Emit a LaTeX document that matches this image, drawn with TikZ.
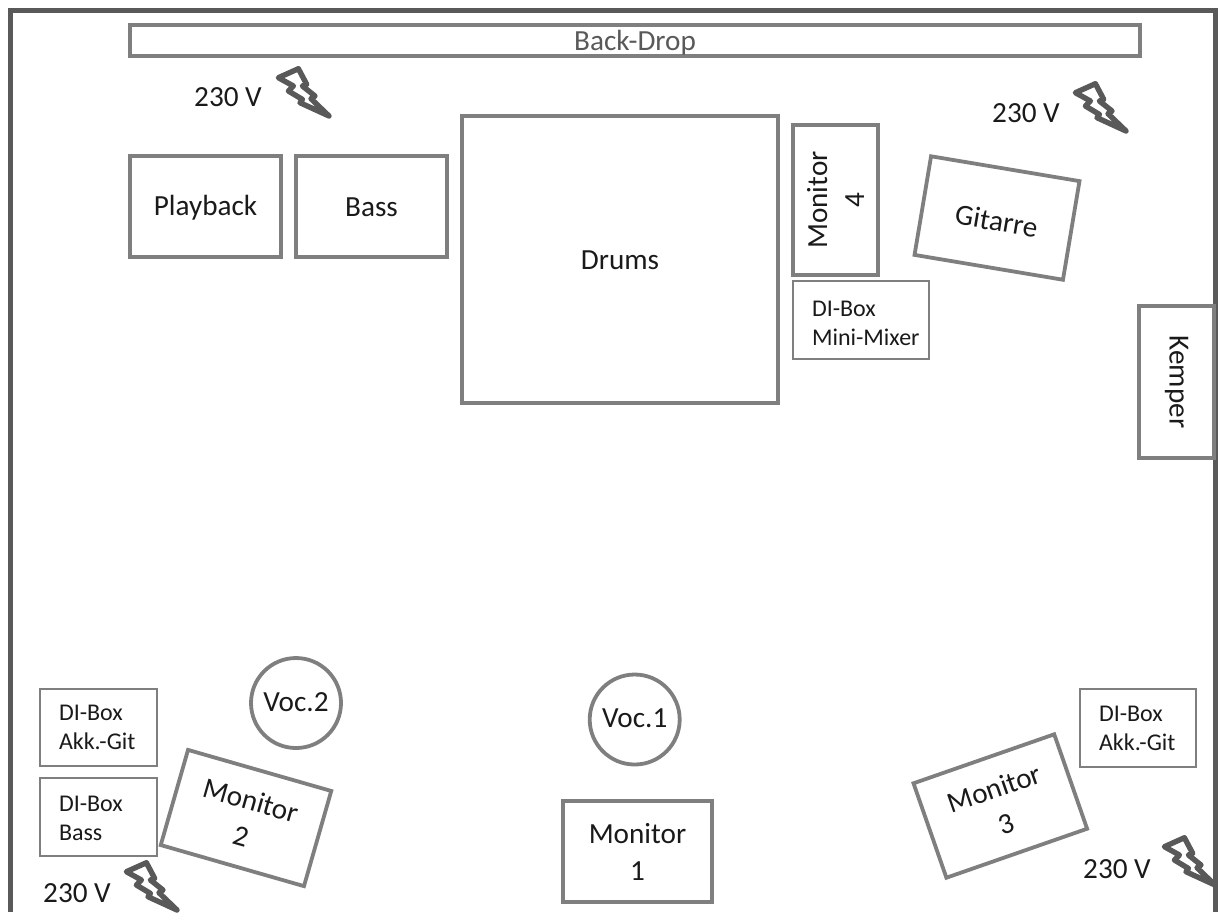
\documentclass[tikz,border=0pt]{standalone}
\usepackage{fontspec}
\setmainfont{Carlito}
\definecolor{wallc}{HTML}{595959}
\definecolor{boxc}{HTML}{7F7F7F}
\definecolor{inkc}{HTML}{1A1A1A}
\newcommand{\dil}{\hspace*{9.5pt}}
\newcommand{\nudge}[2]{\raisebox{#1}[\height][\depth]{#2}}
\tikzset{
  bx/.style 2 args={minimum width=#1*0.5pt, minimum height=#2*0.5pt},
  stagebox/.style={rectangle, draw=boxc, line width=1.9pt, inner sep=0pt, align=center, text=inkc,
    font=\fontsize{14.6}{18.5}\selectfont},
  dibox/.style={rectangle, draw=boxc, line width=1.1pt, inner xsep=0pt, inner ysep=0pt, align=left, text=inkc,
    font=\fontsize{12}{14.5}\selectfont, text width=#1*0.5pt},
  voc/.style={circle, draw=boxc, line width=1.9pt, inner sep=0pt, text=inkc, font=\fontsize{14.6}{16}\selectfont},
  volt/.style={text=inkc, inner sep=0pt, font=\fontsize{14.6}{16}\selectfont},
  boltline/.style={draw=wallc, line width=2.7pt, line join=round, line cap=round},
  wall/.style={draw=wallc, line width=2.5pt, line join=miter},
}
\newcommand{\bolt}[1]{%
  \draw[boltline,shift={(#1)}] (-50.6,-38.3) -- (-30.6,-47.3) -- (-22.3,-31.6) -- (-26.6,-30) -- (-14,-20) -- (-18,-17.3) -- (0,0) -- (-29,-13.3) -- (-26.6,-16.6) -- (-40.6,-25) -- (-35.6,-30) -- cycle;}
\begin{document}
\begin{tikzpicture}[x=0.5pt,y=-0.5pt]
\useasboundingbox (0,0) rectangle (1219,912);
\coordinate (wa) at (10,912); \coordinate (wb) at (10,10);
\coordinate (wc) at (1215,10); \coordinate (wd) at (1215,912);
\draw[wall] (wa) -- (wb) -- (wc) -- (wd);
\node[stagebox,bx={1010}{31},text=wallc] (backdrop) at (635,40.5) {\nudge{-1pt}{Back-Drop}};
\node[stagebox,bx={151}{101}] (playback) at (205.5,206.5) {\nudge{-0.5pt}{Playback}};
\node[stagebox,bx={151}{101}] (bass) at (371.5,206.5) {\nudge{-0.5pt}{Bass}};
\node[stagebox,bx={316}{287}] (drums) at (620,259.5) {\nudge{-0.5pt}{Drums}};
\node[stagebox,bx={150}{85},rotate=90] (mon4) at (835.5,200) {Monitor\\4};
\node[dibox=136,minimum height=39pt] (dimix) at (861,320) {\dil\nudge{-1.5pt}{DI-Box}\\\dil\nudge{-1.5pt}{Mini-Mixer}};
\node[stagebox,bx={150.5}{100},rotate=-9.5] (gitarre) at (997,218) {\nudge{-1.5pt}{Gitarre}};
\node[stagebox,bx={152}{75},rotate=-90,fill=white] (kemper) at (1176.5,382) {Kemper};
\node[stagebox,bx={149}{101}] (mon1) at (637.5,851.5) {Monitor\\1};
\node[voc,minimum size=45pt] (voc1) at (634.7,719.5) {\nudge{0.8pt}{Voc.1}};
\node[voc,minimum size=45pt] (voc2) at (296,703) {\nudge{0.4pt}{Voc.2}};
\node[dibox=117,minimum height=38.5pt] (diakk) at (98.5,727.5) {\dil DI-Box\\\dil Akk.-Git};
\node[dibox=117,minimum height=39pt] (dibass) at (98.5,817) {\dil\nudge{-0.5pt}{DI-Box}\\\dil\nudge{-0.5pt}{Bass}};
\node[dibox=116,minimum height=39pt] (diakkr) at (1138,728) {\dil DI-Box\\\dil Akk.-Git};
\node[stagebox,bx={149}{99},rotate=-16] (mon2) at (246,818) {Monitor\\2};
\node[stagebox,bx={149}{100},rotate=19.2] (mon3) at (1000.3,806) {Monitor\\3};
\node[volt] (v1) at (228,97) {230 V};
\node[volt] (v2) at (1026,113) {230 V};
\node[volt] (v3) at (1117,869) {230 V};
\node[volt] (v4) at (77,893) {230 V};
\bolt{329,116}
\bolt{1126,131}
\bolt{177,910}
\bolt{1215,885}
\end{tikzpicture}
\end{document}
